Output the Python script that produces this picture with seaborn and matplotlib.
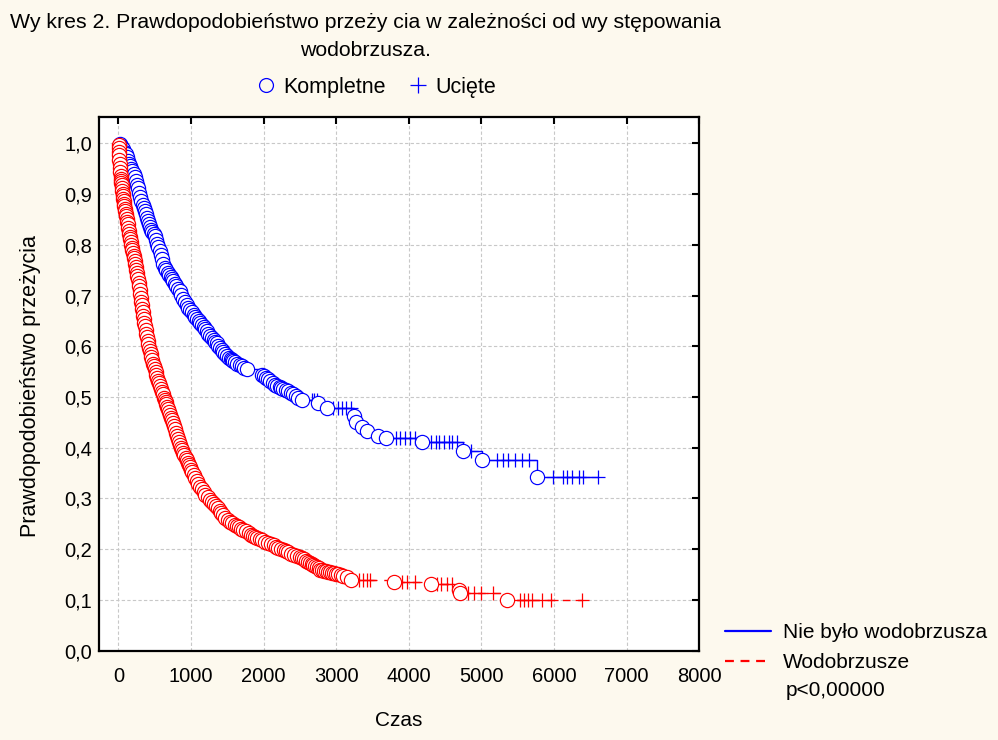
import numpy as np
import pandas as pd
import matplotlib
matplotlib.use("Agg")
import matplotlib.pyplot as plt
import seaborn as sns
from matplotlib.lines import Line2D

# ---------------- data ----------------
groups = ["Nie było wodobrzusza", "Wodobrzusze"]

# (time, survival after the event) for complete observations
blue_events = [
    (20, .998), (40, .995), (55, .991), (70, .988), (85, .983), (100, .978), (118, .972),
    (135, .966), (150, .960), (165, .955), (180, .950), (195, .945), (210, .939), (225, .933),
    (240, .925), (255, .918), (270, .911), (285, .903), (300, .895), (317, .887), (333, .879),
    (350, .872), (365, .866), (380, .860), (395, .853), (410, .847), (425, .841), (440, .835),
    (455, .830), (470, .826), (485, .821), (500, .817), (518, .810), (535, .802), (552, .795),
    (570, .788), (588, .779), (605, .771), (622, .763), (640, .755), (660, .750), (680, .745),
    (700, .741), (720, .737), (738, .733), (755, .729), (778, .723), (800, .718), (822, .713),
    (845, .708), (868, .701), (890, .694), (915, .687), (940, .681), (965, .676), (990, .672),
    (1015, .667), (1040, .662), (1060, .658), (1080, .654), (1105, .649), (1130, .645),
    (1152, .641), (1175, .638), (1196, .634), (1218, .630), (1240, .625), (1265, .620),
    (1290, .616), (1315, .612), (1335, .609), (1355, .606), (1378, .601), (1400, .597),
    (1423, .593), (1446, .589), (1473, .584), (1500, .580), (1522, .577), (1545, .575),
    (1565, .573), (1584, .571), (1612, .568), (1640, .566), (1670, .563), (1700, .561),
    (1735, .558), (1768, .556), (1975, .544), (2000, .541), (2030, .538), (2060, .535),
    (2090, .532), (2125, .528), (2158, .524), (2190, .522), (2220, .520), (2245, .518),
    (2272, .516), (2305, .513), (2340, .511), (2375, .508), (2410, .505), (2440, .502),
    (2470, .499), (2526, .494), (2755, .489), (2870, .478), (3245, .462), (3270, .451),
    (3360, .440), (3430, .432), (3575, .424), (3690, .420), (4180, .412), (4740, .394),
    (5007, .375), (5770, .343)]
blue_censor_time = [2660, 2700, 2730, 2960, 3020, 3080, 3140, 3200, 3820, 3880,
                    3950, 4020, 4090, 4300, 4370, 4420, 4480, 4550, 4600, 4660,
                    4850, 5215, 5300, 5370, 5460, 5560, 5650, 5990, 6120, 6180,
                    6250, 6345, 6405, 6610]

red_events = [
    (3, .996), (6, .990), (9, .983), (12, .976), (15, .968), (18, .960), (22, .952), (26, .944),
    (30, .935), (34, .930), (38, .926), (42, .921), (46, .917), (50, .912), (55, .906), (60, .901),
    (65, .896), (70, .891), (75, .886), (80, .881), (85, .876), (90, .871), (95, .866), (101, .861),
    (108, .856), (114, .850), (120, .845), (128, .840), (135, .834), (142, .828), (150, .822),
    (158, .816), (165, .811), (172, .806), (180, .800), (188, .794), (195, .789), (202, .784),
    (210, .778), (218, .773), (225, .768), (232, .763), (240, .757), (248, .751), (255, .745),
    (262, .739), (270, .732), (278, .725), (285, .718), (292, .711), (300, .703), (308, .696),
    (315, .688), (322, .681), (330, .674), (338, .667), (345, .660), (352, .653), (360, .646),
    (369, .639), (378, .632), (387, .625), (396, .618), (405, .611), (415, .604), (425, .597),
    (435, .590), (445, .584), (455, .578), (466, .572), (478, .566), (489, .561), (500, .555),
    (512, .549), (525, .543), (537, .538), (550, .532), (562, .527), (574, .521), (587, .516),
    (600, .510), (612, .505), (625, .499), (638, .495), (650, .490), (662, .486), (675, .481),
    (688, .476), (700, .470), (712, .465), (725, .459), (738, .454), (750, .448), (764, .442),
    (778, .436), (791, .430), (804, .424), (820, .417), (835, .411), (850, .405), (865, .400),
    (880, .395), (895, .390), (910, .385), (925, .380), (942, .375), (960, .370), (974, .366),
    (988, .362), (1004, .357), (1020, .352), (1038, .346), (1056, .340), (1078, .334),
    (1100, .329), (1124, .323), (1148, .318), (1174, .312), (1200, .307), (1230, .302),
    (1263, .297), (1290, .293), (1320, .289), (1348, .285), (1377, .281), (1398, .276),
    (1420, .272), (1445, .267), (1470, .262), (1505, .258), (1540, .254), (1572, .251),
    (1607, .248), (1632, .245), (1660, .243), (1690, .240), (1722, .238), (1760, .235),
    (1800, .232), (1825, .229), (1850, .227), (1878, .224), (1906, .222), (1945, .220),
    (1980, .218), (2022, .215), (2066, .213), (2100, .210), (2140, .208), (2170, .205),
    (2204, .203), (2240, .200), (2280, .198), (2310, .196), (2342, .194), (2380, .191),
    (2420, .189), (2460, .187), (2503, .185), (2530, .182), (2560, .180), (2590, .177),
    (2617, .175), (2640, .172), (2660, .170), (2685, .168), (2709, .166), (2735, .164),
    (2760, .162), (2780, .160), (2801, .159), (2830, .158), (2860, .157), (2890, .156),
    (2916, .155), (2945, .154), (2970, .153), (3000, .152), (3030, .151), (3065, .150),
    (3100, .148), (3146, .145), (3204, .140), (3790, .136), (4310, .131), (4690, .120),
    (4705, .114), (5350, .099)]
red_censor_time = [3310, 3370, 3430, 3470, 3900, 3970, 4080, 4390, 4450, 4520,
                   4600, 4810, 4900, 5000, 5160, 5530, 5580, 5640, 5700, 5830,
                   5960, 6385]

x_ticks = [0, 1000, 2000, 3000, 4000, 5000, 6000, 7000, 8000]
y_ticks = [0.0, 0.1, 0.2, 0.3, 0.4, 0.5, 0.6, 0.7, 0.8, 0.9, 1.0]
y_tick_labels = ["0,0", "0,1", "0,2", "0,3", "0,4", "0,5", "0,6", "0,7", "0,8", "0,9", "1,0"]

title_1 = "Wy kres 2. Prawdopodobieństwo przeży cia w zależności od wy stępowania"
title_2 = "wodobrzusza."
marker_labels = ["Kompletne", "Ucięte"]
p_text = "p<0,00000"

colors = {"Nie było wodobrzusza": "#0000FF", "Wodobrzusze": "#FF0000"}
BG = "#FDF9EE"


def km_frames(events, ce_t, group):
    ev_t = np.array([e[0] for e in events], float)
    ev_s = np.array([e[1] for e in events], float)
    ce_t = np.asarray(ce_t, float)
    # survival level at each censoring time = current step value
    idx = np.searchsorted(ev_t, ce_t, side="right") - 1
    ce_s = np.where(idx >= 0, ev_s[np.clip(idx, 0, None)], 1.0)
    ev = pd.DataFrame({"t": ev_t, "S": ev_s, "kind": "event"})
    ce = pd.DataFrame({"t": ce_t, "S": ce_s, "kind": "censor"})
    start = pd.DataFrame({"t": [0.0], "S": [1.0], "kind": ["start"]})
    path = pd.concat([start, ev, ce]).sort_values("t", kind="stable").reset_index(drop=True)
    for d in (ev, ce, path):
        d["group"] = group
    return path, ev, ce


paths, events, censors = [], [], []
for g, ev, ct in [(groups[0], blue_events, blue_censor_time),
                  (groups[1], red_events, red_censor_time)]:
    p, e, c = km_frames(ev, ct, g)
    paths.append(p); events.append(e); censors.append(c)

# ---------------- figure ----------------
sns.set_theme(style="white")
plt.rcParams["font.family"] = ["Liberation Sans", "DejaVu Sans"]
plt.rcParams["text.color"] = "black"

fig = plt.figure(figsize=(9.98, 7.40), dpi=100)
fig.patch.set_facecolor(BG)
ax = fig.add_axes([99.3 / 998, 1 - 650.7 / 740, 600 / 998, 534 / 740])
ax.set_facecolor("white")

for g, p in zip(groups, paths):
    ls = "-" if g == groups[0] else (0, (5.5, 5.5))
    sns.lineplot(data=p, x="t", y="S", color=colors[g], estimator=None, sort=False,
                 drawstyle="steps-post", linewidth=1.0, linestyle=ls, ax=ax,
                 legend=False, zorder=3)
for g, c in zip(groups, censors):
    sns.scatterplot(data=c, x="t", y="S", marker="+", color=colors[g], s=110,
                    linewidth=0.9, ax=ax, legend=False, zorder=4)
for g, e in zip(groups, events):
    sns.scatterplot(data=e, x="t", y="S", marker="o", facecolor="white",
                    edgecolor=colors[g], s=105, linewidth=0.85, ax=ax,
                    legend=False, zorder=5)

ax.set_xlim(-262, 8000)
ax.set_ylim(0, 1.0524)
ax.set_xticks(x_ticks)
ax.set_xticklabels([str(v) for v in x_ticks])
ax.set_yticks(y_ticks)
ax.set_yticklabels(y_tick_labels)
ax.set_xlabel("")
ax.set_ylabel("")
ax.grid(True, color="#C8C8C8", linestyle=(0, (3, 2)), linewidth=0.8)
ax.set_axisbelow(True)
for sp in ax.spines.values():
    sp.set_visible(True)
    sp.set_color("black")
    sp.set_linewidth(1.6)
ax.tick_params(axis="both", direction="in", length=5, width=1.5, colors="black",
               labelcolor="black", top=True, right=True, labelsize=14.5)
ax.tick_params(axis="x", pad=12)
ax.tick_params(axis="y", pad=5)

fig.text(365 / 998, 1 - 22 / 740, title_1, ha="center", va="center", fontsize=15.3, color="black")
fig.text(365 / 998, 1 - 50 / 740, title_2, ha="center", va="center", fontsize=15.3, color="black")
fig.text(399 / 998, 1 - 720 / 740, "Czas", ha="center", va="center", fontsize=15, color="black")
fig.text(31 / 998, 1 - 386 / 740, "Prawdopodobieństwo przeżycia", ha="center",
         va="center", rotation=90, fontsize=15.5, color="black")

top_handles = [Line2D([], [], linestyle="none", marker="o", markerfacecolor="none",
                      markeredgecolor="#0000FF", markersize=10, markeredgewidth=0.9),
               Line2D([], [], linestyle="none", marker="+", color="#0000FF",
                      markersize=11, markeredgewidth=0.9)]
fig.legend(top_handles, marker_labels, loc="center", bbox_to_anchor=(376 / 998, 1 - 87 / 740),
           ncol=2, frameon=False, fontsize=15.5, handletextpad=0.3, columnspacing=1.0,
           handlelength=1.0, labelcolor="black")

right_handles = [Line2D([], [], color=colors[groups[0]], linewidth=1.6),
                 Line2D([], [], color=colors[groups[1]], linewidth=1.6, linestyle=(0, (4, 3)))]
fig.legend(right_handles, groups, loc="upper left", bbox_to_anchor=(725 / 998, 1 - 623 / 740),
           frameon=False, fontsize=15, handlelength=2.2, handletextpad=0.6,
           labelspacing=0.55, borderaxespad=0, borderpad=0, labelcolor="black")
fig.text(786 / 998, 1 - 690 / 740, p_text, ha="left", va="center", fontsize=15, color="black")

fig.savefig("out.png", dpi=100, facecolor=BG)
